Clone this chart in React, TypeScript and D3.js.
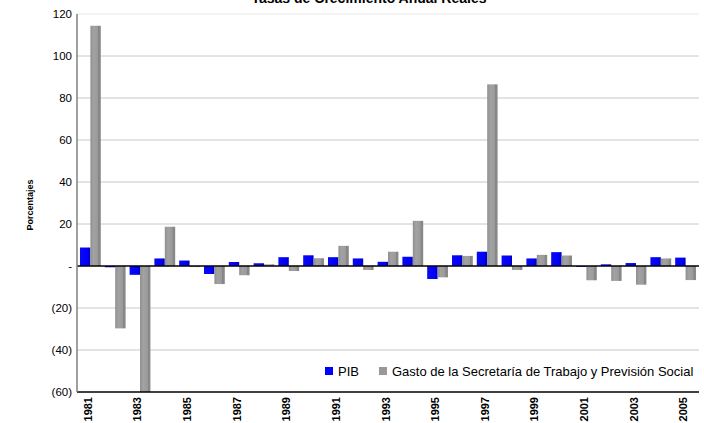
import React from "react";
import * as d3 from "d3";

const years = [
  "1981","1982","1983","1984","1985","1986","1987","1988","1989","1990",
  "1991","1992","1993","1994","1995","1996","1997","1998","1999","2000",
  "2001","2002","2003","2004","2005",
];
const pib = [8.8, -0.6, -4.2, 3.6, 2.6, -3.8, 1.9, 1.3, 4.2, 5.1, 4.2, 3.6, 2.0, 4.4, -6.2, 5.1, 6.8, 5.0, 3.6, 6.6, 0.0, 0.8, 1.4, 4.2, 4.0];
const gasto = [114.4, -29.7, -65, 18.7, -0.5, -8.6, -4.4, 0.8, -2.4, 3.7, 9.6, -1.9, 6.8, 21.5, -5.4, 4.8, 86.5, -1.9, 5.3, 5.0, -6.8, -7.1, -8.9, 3.6, -6.7];
const yTicks = [120, 100, 80, 60, 40, 20, 0, -20, -40, -60];
const seriesNames = ["PIB", "Gasto de la Secretaría de Trabajo y Previsión Social"];
const title = "Tasas de Crecimiento Anual Reales";
const yTitle = "Porcentajes";

const W = 704, H = 423;
const M = { left: 77, right: 699, top: 14, bottom: 392 };

function fmt(v: number) {
  if (v === 0) return "-";
  if (v < 0) return `(${Math.abs(v)})`;
  return String(v);
}

export default function App() {
  const y = d3.scaleLinear().domain([-60, 120]).range([M.bottom, M.top]);
  const x0 = d3.scaleBand<string>().domain(years).range([M.left, M.right]).paddingInner(0.16).paddingOuter(0.12);
  const x1 = d3.scaleBand<string>().domain(["pib", "gasto"]).range([0, x0.bandwidth()]);
  const series = [
    { key: "pib", values: pib, fill: "url(#gBlue)" },
    { key: "gasto", values: gasto, fill: "url(#gGrey)" },
  ];
  const clampV = (v: number) => Math.max(-60, Math.min(120, v));
  return (
    <svg width={W} height={H} style={{ position: "absolute", left: 0, top: 0, fontFamily: "Liberation Sans, Arial, sans-serif" }}>
      <defs>
        <linearGradient id="gBlue" x1="0" x2="1" y1="0" y2="0">
          <stop offset="0" stopColor="#0a0af0" />
          <stop offset="0.75" stopColor="#0000ff" />
          <stop offset="0.8" stopColor="#0000d8" />
          <stop offset="1" stopColor="#0000c8" />
        </linearGradient>
        <linearGradient id="gGrey" x1="0" x2="1" y1="0" y2="0">
          <stop offset="0" stopColor="#8f8f8f" />
          <stop offset="0.3" stopColor="#a2a2a2" />
          <stop offset="0.72" stopColor="#9a9a9a" />
          <stop offset="0.78" stopColor="#858585" />
          <stop offset="1" stopColor="#8c8c8c" />
        </linearGradient>
      </defs>
      <rect width={W} height={H} fill="#fff" />
      <text x={369} y={3} textAnchor="middle" fontSize={14} fontWeight="bold" fill="#000">{title}</text>
      {yTicks.map((t) => (
        <g key={t}>
          {t !== 0 && t !== -60 && (
            <line x1={M.left} x2={M.right} y1={y(t)} y2={y(t)} stroke={t === 120 ? "#e8e8e8" : "#c8c8c8"} strokeWidth={1} />
          )}
          <text x={72} y={y(t) + 4} textAnchor="end" fontSize={11.5} fill="#000">{fmt(t)}</text>
        </g>
      ))}
      <text transform={`translate(33,205) rotate(-90)`} textAnchor="middle" fontSize={9} fontWeight="bold" fill="#000">{yTitle}</text>
      {series.map((s) => (
        <g key={s.key}>
          {years.map((yr, i) => {
            const v = clampV(s.values[i]);
            const bx = (x0(yr) as number) + (x1(s.key) as number);
            const bw = x1.bandwidth();
            const top = y(Math.max(0, v));
            const bot = y(Math.min(0, v));
            return <rect key={yr} x={bx} y={top} width={bw} height={Math.max(0.8, bot - top)} fill={s.fill} />;
          })}
        </g>
      ))}
      <line x1={M.left} x2={M.right} y1={y(0)} y2={y(0)} stroke="#000" strokeWidth={1.3} />
      <line x1={M.left} x2={M.right} y1={y(-60)} y2={y(-60)} stroke="#000" strokeWidth={1.3} />
      <line x1={M.left} x2={M.left} y1={M.top} y2={M.bottom} stroke="#808080" strokeWidth={1.5} />
      {years.map((yr, i) =>
        i % 2 === 0 ? (
          <text key={yr} transform={`translate(${(x0(yr) as number) + x0.bandwidth() / 2 + 1.5},397) rotate(-90)`} textAnchor="end" fontSize={11} fontWeight="bold" fill="#000">{yr}</text>
        ) : null
      )}
      <g>
        <rect x={325} y={367} width={8} height={8} fill="#0000ff" />
        <text x={338} y={376} fontSize={13} fill="#000">{seriesNames[0]}</text>
        <rect x={379} y={367} width={8} height={8} fill="#999" />
        <text x={392} y={376} fontSize={13} fill="#000">{seriesNames[1]}</text>
      </g>
    </svg>
  );
}
